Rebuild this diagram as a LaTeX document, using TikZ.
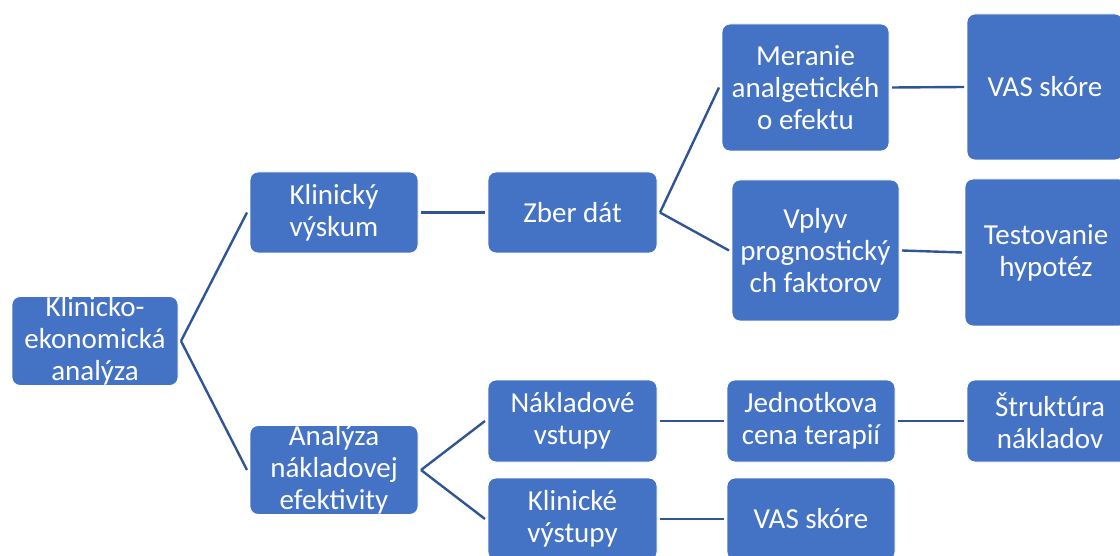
\documentclass[tikz,border=0pt]{standalone}
\usepackage{fontspec}
\setmainfont{Carlito}
\usepackage{tikz}
\definecolor{boxblue}{HTML}{4472C4}
\definecolor{linkblue}{HTML}{2F5597}

\begin{document}
\begin{tikzpicture}[x=1pt,y=-1pt,
  box/.style={shape=rectangle,rounded corners=8pt,fill=boxblue,draw=white,line width=0.8pt,
    text=white,align=center,inner sep=0pt,outer sep=3pt,
    font=\fontsize{29pt}{32pt}\selectfont},
  link/.style={draw=linkblue,line width=2.4pt}]
\useasboundingbox (0,0) rectangle (1120,556);
\clip (0,0) rectangle (1120,556);
\node[box,minimum width=166pt,minimum height=82pt] (1) at (95,341) {Klinicko-\\ekonomická\\analýza};
\node[box,minimum width=168pt,minimum height=81pt] (2) at (334,212.5) {Klinický\\výskum};
\node[box,minimum width=169pt,minimum height=81pt] (3) at (572.5,212.5) {Zber dát};
\node[box,minimum width=167pt,minimum height=127pt] (4) at (805.5,87.5) {Meranie\\analgetickéh\\o efektu};
\node[box,minimum width=156pt,minimum height=146pt] (5) at (1045,87) {VAS skóre};
\node[box,minimum width=167pt,minimum height=141pt] (6) at (815.5,250.5) {Vplyv\\prognostický\\ch faktorov};
\node[box,minimum width=162pt,minimum height=147pt] (7) at (1046,252.5) {Testovanie\\hypotéz};
\node[box,minimum width=168pt,minimum height=82pt] (8) at (334,470) {Analýza\\nákladovej\\efektivity};
\node[box,minimum width=169pt,minimum height=82pt] (9) at (572.5,421) {Nákladové\\vstupy};
\node[box,minimum width=169pt,minimum height=82pt] (10) at (572.5,519) {Klinické\\výstupy};
\node[box,minimum width=168pt,minimum height=82pt] (11) at (811,421) {Jednotkova\\cena terapií};
\node[box,minimum width=166pt,minimum height=82pt] (12) at (1050,421) {Štruktúra\\nákladov};
\node[box,minimum width=168pt,minimum height=82pt] (13) at (811,519) {VAS skóre};
\path [link] (1.east) edge (2.west);
\path [link] (1.east) edge (8.west);
\path [link] (2.east) edge (3.west);
\path [link] (3.east) edge (4.west);
\path [link] (3.east) edge (6.west);
\path [link] (4.east) edge (5.west);
\path [link] (6.east) edge (7.west);
\path [link] (8.east) edge (9.west);
\path [link] (8.east) edge (10.west);
\path [link] (9.east) edge (11.west);
\path [link] (11.east) edge (12.west);
\path [link] (10.east) edge (13.west);
\end{tikzpicture}
\end{document}
